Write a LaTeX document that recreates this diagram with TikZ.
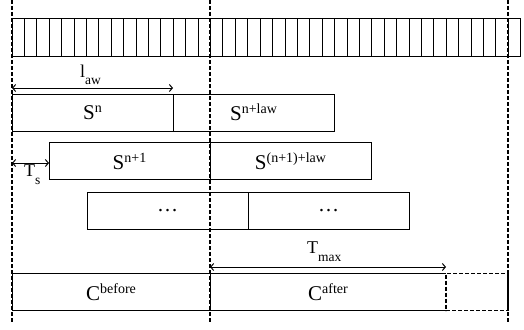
\documentclass[tikz,border=0pt]{standalone}
\usepackage{fontspec}
\setmainfont{Liberation Serif}
\usetikzlibrary{arrows.meta, positioning}

\newcommand{\hi}[1]{\raisebox{7pt}{\fontsize{14}{14}\selectfont #1}}
\newcommand{\lo}[1]{\raisebox{-8pt}{\fontsize{13.5}{13.5}\selectfont #1}}

\tikzset{
  slot/.style={draw, line width=1pt, minimum width=161pt, minimum height=37pt, inner sep=0pt, outer sep=0pt, font=\fontsize{21}{21}\selectfont},
  guide/.style={line width=1.4pt, dash pattern=on 4pt off 2pt},
  span/.style={line width=1pt, {Straight Barb[length=3pt,width=7pt]}-{Straight Barb[length=3pt,width=7pt]}},
  lbl/.style={font=\fontsize{18}{18}\selectfont, inner sep=0pt, anchor=base west}
}

\begin{document}
\begin{tikzpicture}[x=1pt, y=-1pt]
    \useasboundingbox (0,0) rectangle (524,329);
    % tape of cells
    \draw[line width=1pt] (12,19) rectangle (520.8,57);
    \foreach \i in {1,...,40}
        \draw[line width=1pt] (12+\i*12.41,19) -- (12+\i*12.41,57);

    % sliding windows
    \node[slot] (sn) at (92.5,112.5) {S\hi{n}};
    \node[slot, right=0pt of sn] (snlaw) {S\hi{n+law}};
    \node[slot] (sn1) at (129.5,161) {S\hi{n+1}};
    \node[slot, right=0pt of sn1] (sn1law) {S\hi{(n+1)+law}};
    \node[slot] (sdots) at (167.5,211) {\dots};
    \node[slot, right=0pt of sdots] (sdotslaw) {\dots};

    % counters
    \node[slot, minimum width=198pt] (cbefore) at (111,292) {C\hi{before}};
    \node[slot, draw=none, minimum width=236pt, right=0pt of cbefore] (cafter) {C\hi{after}};
    \draw[line width=1pt] (cafter.north west) -- (cafter.north east)
                          (cafter.south west) -- (cafter.south east);
    \node[slot, guide, minimum width=62pt, right=0pt of cafter] (cspare) {};

    % spans
    \coordinate (aw0) at (12,88);
    \draw[span] (aw0) -- (aw0 -| sn.east);
    \node[lbl] (awlbl) at (80,77) {l\lo{aw}};
    \coordinate (ts0) at (12,163);
    \draw[span] (ts0) -- (ts0 -| sn1.west);
    \node[lbl] (tslbl) at (24,176) {T\lo{s}};
    \coordinate (tm0) at (210,267);
    \draw[span] (tm0) -- (tm0 -| cafter.east);
    \node[lbl] (tmlbl) at (307,253) {T\lo{max}};

    % guide lines
    \foreach \gx in {12,210,508}
        \draw[guide] (\gx,0) -- (\gx,323);
\end{tikzpicture}
\end{document}
